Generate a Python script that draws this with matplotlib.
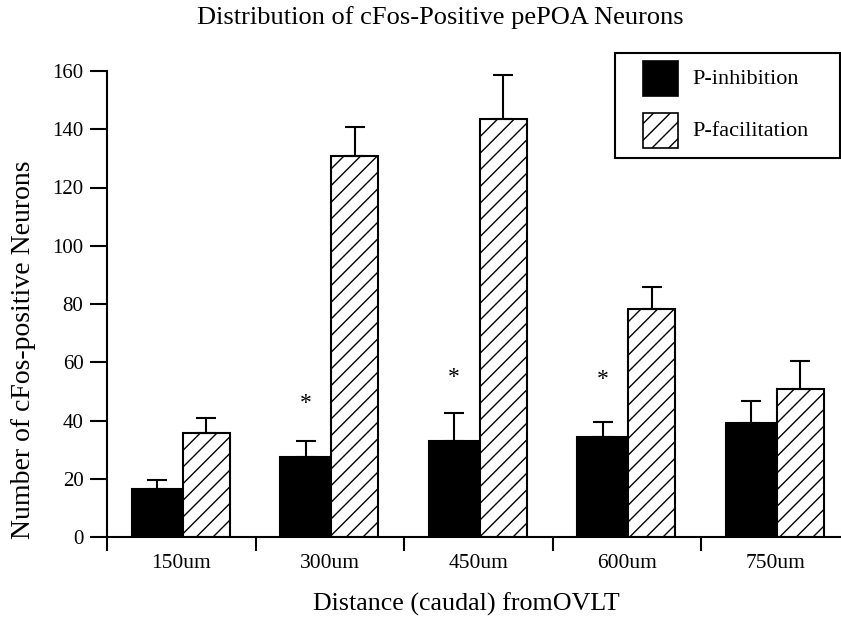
import matplotlib
matplotlib.use("Agg")
import matplotlib.pyplot as plt
from matplotlib.patches import Rectangle
import numpy as np

# values
distances = ['150um', '300um', '450um', '600um', '750um']
inhibition = [16.5, 27.5, 33, 34.3, 39]
inhibition_err = [3, 5.5, 9.5, 5.2, 7.7]
facilitation = [35.7, 130.8, 143.5, 78.3, 50.8]
facilitation_err = [5.1, 10, 15, 7.5, 9.6]
star_groups = [1, 2, 3]
star_heights = [46, 54.6, 54]
legend_labels = ['P-inhibition', 'P-facilitation']

plt.rcParams['font.family'] = ['Liberation Serif', 'DejaVu Serif']
plt.rcParams['hatch.linewidth'] = 1.0

W, H = 841, 623
fig = plt.figure(figsize=(W/100, H/100), dpi=100)
ax = fig.add_axes([107/W, 86/H, 1 - 107/W, (537-71)/H])


def fx(px):
    return px / W


def fy(py):
    return 1 - py / H


x = np.arange(len(distances))
w_inh = 0.345
w_fac = 0.318
ax.bar(x + 0.165, inhibition, width=w_inh, align='edge', color='black',
       edgecolor='black', linewidth=1.5)
ax.bar(x + 0.51, facilitation, width=w_fac, align='edge', color='white',
       edgecolor='black', hatch='//', linewidth=1.5)

ax.errorbar(x + 0.165 + w_inh/2, inhibition, yerr=[np.zeros(5), inhibition_err],
            fmt='none', ecolor='black', elinewidth=1.5, capsize=7, capthick=1.5)
ax.errorbar(x + 0.51 + w_fac/2, facilitation, yerr=[np.zeros(5), facilitation_err],
            fmt='none', ecolor='black', elinewidth=1.5, capsize=7, capthick=1.5)

for g, h in zip(star_groups, star_heights):
    ax.text(g + 0.165 + w_inh/2, h, '*', ha='center', va='center', fontsize=17)

ax.set_xlim(0, 734/148.5)
ax.set_ylim(0, 160)
ax.set_yticks(range(0, 161, 20))
ax.tick_params(axis='y', direction='out', length=12, width=1.5, labelsize=15, pad=5)
ax.set_xticks(range(0, 5))
ax.set_xticklabels([])
ax.tick_params(axis='x', which='major', direction='out', length=10, width=1.5)
ax.set_xticks(x + 0.5, minor=True)
ax.set_xticklabels(distances, minor=True)
ax.tick_params(axis='x', which='minor', length=0, labelsize=15.5, pad=12)

for s in ['top', 'right']:
    ax.spines[s].set_visible(False)
ax.spines['left'].set_linewidth(1.5)
ax.spines['bottom'].set_linewidth(1.5)

# legend box drawn by hand to get the wide side padding
fig.patches.append(Rectangle((fx(615), fy(158)), fx(840) - fx(615), fy(53) - fy(158),
                             transform=fig.transFigure, facecolor='white',
                             edgecolor='black', linewidth=1.5, zorder=5))
fig.patches.append(Rectangle((fx(643), fy(96)), fx(678) - fx(643), fy(61) - fy(96),
                             transform=fig.transFigure, facecolor='black',
                             edgecolor='black', linewidth=1.2, zorder=6))
fig.patches.append(Rectangle((fx(643), fy(148)), fx(678) - fx(643), fy(113) - fy(148),
                             transform=fig.transFigure, facecolor='white', hatch='//',
                             edgecolor='black', linewidth=1.2, zorder=6))
fig.text(fx(692), fy(79), legend_labels[0], ha='left', va='center', fontsize=16, zorder=7)
fig.text(fx(692), fy(131), legend_labels[1], ha='left', va='center', fontsize=16, zorder=7)

fig.text(fx(440), fy(18), 'Distribution of cFos-Positive pePOA Neurons',
         ha='center', va='center', fontsize=19)
fig.text(fx(466), fy(604), 'Distance (caudal) fromOVLT',
         ha='center', va='center', fontsize=18.7)
fig.text(fx(24), fy(350), 'Number of cFos-positive Neurons',
         ha='center', va='center', rotation=90, fontsize=20)

fig.savefig('out.png', dpi=100)
